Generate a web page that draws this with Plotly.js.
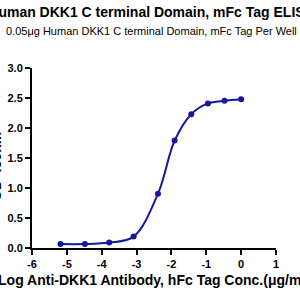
<!DOCTYPE html>
<html><head><meta charset="utf-8">
<script src="https://cdn.plot.ly/plotly-3.0.1.min.js"></script>
<style>html,body{margin:0;padding:0;background:#fff}#chart{width:300px;height:300px}</style>
</head><body><div id="chart"></div>
<script>
const logConc = [-5.182, -4.483, -3.784, -3.085, -2.386, -1.908, -1.431, -0.954, -0.477, 0];
const od450 = [0.065, 0.065, 0.09, 0.19, 0.905, 1.79, 2.23, 2.41, 2.455, 2.48];
const xTicks = [-6, -5, -4, -3, -2, -1, 0, 1];
const yTicks = [0, 0.5, 1, 1.5, 2, 2.5, 3];
const yTickText = ['0.0', '0.5', '1.0', '1.5', '2.0', '2.5', '3.0'];
const titleText = 'Human DKK1 C terminal Domain, mFc Tag ELISA';
const subtitleText = '0.05μg Human DKK1 C terminal Domain, mFc Tag Per Well';
const xTitle = 'Log Anti-DKK1 Antibody, hFc Tag Conc.(μg/ml)';
const yTitle = 'OD 450nm';

const col = '#1616a0';
const F = 'Liberation Sans, Arial, sans-serif';
Plotly.newPlot('chart', [{
  x: logConc, y: od450, type: 'scatter', mode: 'lines+markers',
  line: {color: col, width: 2, shape: 'spline', smoothing: 1},
  marker: {color: col, size: 6}
}], {
  width: 300, height: 300,
  margin: {l: 32, r: 24, t: 68, b: 52},
  paper_bgcolor: '#fff', plot_bgcolor: '#fff',
  showlegend: false,
  font: {family: F, color: '#000'},
  title: {text: '<b>' + titleText + '</b>', x: 0.505, xref: 'container', xanchor: 'center',
          y: 1, yref: 'container', yanchor: 'top', pad: {t: 7},
          font: {size: 14, family: F, color: '#000'}},
  annotations: [
    {text: subtitleText, xref: 'paper', yref: 'paper', x: 0.49, y: 1, yshift: 37,
     showarrow: false, xanchor: 'center', yanchor: 'middle',
     font: {size: 11, family: F, color: '#000'}},
    {text: '<b>' + yTitle + '</b>', xref: 'paper', yref: 'paper', x: 0, y: 0.45, xshift: -36,
     textangle: -90, showarrow: false, xanchor: 'center', yanchor: 'middle',
     font: {size: 14, family: F, color: '#000'}}
  ],
  xaxis: {range: [-6, 1], tickvals: xTicks, ticktext: xTicks.map(String),
          showgrid: false, zeroline: false, showline: true, linecolor: '#000', linewidth: 2,
          ticks: 'outside', ticklen: 5, tickwidth: 2, tickcolor: '#000',
          tickfont: {size: 11, family: F, color: '#000', weight: 'bold'},
          title: {text: '<b>' + xTitle + '</b>', standoff: 6, font: {size: 14, family: F, color: '#000'}}},
  yaxis: {range: [0, 3], tickvals: yTicks, ticktext: yTickText,
          showgrid: false, zeroline: false, showline: true, linecolor: '#000', linewidth: 2,
          ticks: 'outside', ticklen: 5, tickwidth: 2, tickcolor: '#000',
          tickfont: {size: 11, family: F, color: '#000', weight: 'bold'}}
}, {displayModeBar: false, staticPlot: true});
</script></body></html>
